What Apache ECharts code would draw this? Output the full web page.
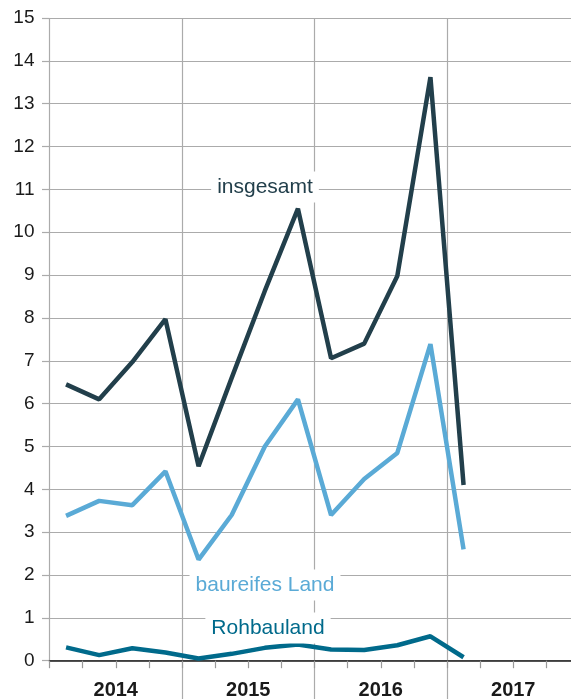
<!DOCTYPE html>
<html>
<head>
<meta charset="utf-8">
<script src="https://cdn.jsdelivr.net/npm/echarts@6/dist/echarts.min.js"></script>
<style>
    html, body { margin: 0; padding: 0; background: #fff; }
    #chart { width: 571px; height: 699px; }
</style>
</head>
<body>
<div id="chart"></div>
<script>
// Quartale 2014 Q1 - 2017 Q4
const quarters = [
    '2014 Q1', '2014 Q2', '2014 Q3', '2014 Q4',
    '2015 Q1', '2015 Q2', '2015 Q3', '2015 Q4',
    '2016 Q1', '2016 Q2', '2016 Q3', '2016 Q4',
    '2017 Q1', '2017 Q2', '2017 Q3', '2017 Q4'
];
const years = ['2014', '2015', '2016', '2017'];

const insgesamt = [6.45, 6.1, 6.97, 7.97, 4.54, 6.6, 8.63, 10.55, 7.06, 7.4, 8.98, 13.62, 4.1];
const baureifesLand = [3.38, 3.73, 3.63, 4.42, 2.36, 3.4, 5.0, 6.1, 3.4, 4.24, 4.85, 7.39, 2.6];
const rohbauland = [0.31, 0.13, 0.29, 0.19, 0.05, 0.16, 0.3, 0.38, 0.26, 0.25, 0.36, 0.57, 0.08];

const yTicks = { min: 0, max: 15, interval: 1 };

const fontFamily = '"Liberation Sans", Helvetica, Arial, sans-serif';
const gridColor = '#ababab';

const chart = echarts.init(document.getElementById('chart'));

const lineSeries = (name, data, color) => ({
    name: name,
    type: 'line',
    xAxisIndex: 0,
    data: data,
    symbol: 'none',
    lineStyle: { width: 4.5, color: color, cap: 'butt', join: 'bevel' },
    itemStyle: { color: color },
    z: 5
});

const label = (text, x, y, color) => ({
    type: 'text',
    x: x,
    y: y,
    z: 10,
    style: {
        text: text,
        fill: color,
        font: '21px ' + fontFamily,
        align: 'center',
        verticalAlign: 'middle',
        backgroundColor: '#fff',
        padding: [5, 6]
    }
});

const option = {
    animation: false,
    backgroundColor: '#fff',
    // Plot geht rechts etwas über den Rand hinaus
    grid: { left: 49.5, right: -8.5, top: 18, bottom: 38.3, containLabel: false, outerBoundsMode: 'none' },
    xAxis: [
        {
            // Quartale: Daten + kurze Ticks
            type: 'category',
            data: quarters,
            boundaryGap: true,
            axisLine: { show: true, lineStyle: { color: '#1a1a1a', width: 1.5 } },
            axisTick: { show: true, length: 7.5, interval: 0, lineStyle: { color: '#999', width: 1.2 } },
            axisLabel: { show: false },
            splitLine: { show: false },
            z: 3
        },
        {
            // Jahre: Beschriftung + Trennlinien
            type: 'category',
            data: years,
            position: 'bottom',
            boundaryGap: true,
            axisLine: { show: false },
            axisTick: {
                show: true,
                length: 40,
                interval: function (index) { return index > 0; },
                lineStyle: { color: gridColor, width: 1.2 }
            },
            axisLabel: {
                show: true,
                margin: 20,
                color: '#1a1a1a',
                fontSize: 20,
                fontWeight: 'bold',
                fontFamily: fontFamily
            },
            splitLine: { show: true, lineStyle: { color: gridColor, width: 1.2 } }
        }
    ],
    yAxis: {
        type: 'value',
        min: yTicks.min,
        max: yTicks.max,
        interval: yTicks.interval,
        axisLine: { show: false },
        axisTick: { show: true, length: 7.5, lineStyle: { color: gridColor, width: 1.2 } },
        axisLabel: {
            margin: 15,
            color: '#1a1a1a',
            fontSize: 19,
            fontFamily: fontFamily
        },
        splitLine: { show: true, lineStyle: { color: gridColor, width: 1.2 } }
    },
    series: [
        lineSeries('insgesamt', insgesamt, '#223f4b'),
        lineSeries('baureifes Land', baureifesLand, '#5aaad6'),
        lineSeries('Rohbauland', rohbauland, '#006a8b')
    ],
    graphic: [
        label('insgesamt', 265, 187, '#223f4b'),
        label('baureifes Land', 265, 585, '#5aaad6'),
        label('Rohbauland', 268, 628, '#006a8b')
    ]
};

chart.setOption(option);
</script>
</body>
</html>
